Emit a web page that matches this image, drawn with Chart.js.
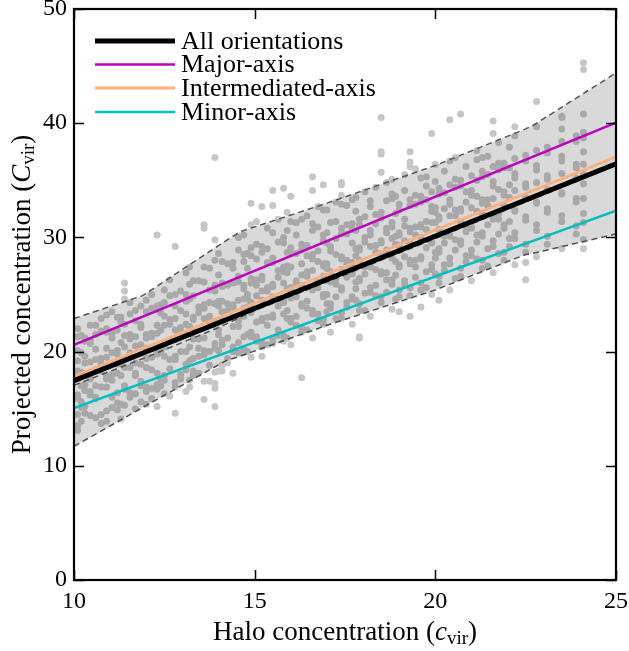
<!DOCTYPE html>
<html><head><meta charset="utf-8">
<script src="https://cdn.jsdelivr.net/npm/chart.js@4/dist/chart.umd.min.js"></script>
<style>html,body{margin:0;padding:0;background:#fff}canvas{display:block}</style>
</head><body>
<canvas id="c" width="629" height="651"></canvas>
<script>
// ---------- data ----------
const xTicks = [10, 15, 20, 25];
const yTicks = [0, 10, 20, 30, 40, 50];

const fitX = [10, 25];
const allOrient = [17.45, 36.45];
const majorAxis = [20.6, 40.05];
const interAxis = [17.85, 37.05];
const minorAxis = [15.05, 32.35];

const bandX = [10, 11.9, 14.2, 14.6, 17, 20, 22.5, 22.7, 25];
const bandUpper = [22.9, 24.9, 29.7, 30.5, 33.0, 36.3, 39.5, 39.8, 44.4];
const bandLower = [11.7, 15.1, 19.2, 19.6, 22.3, 25.4, 28.5, 28.6, 30.3];

const midX = [10, 12, 14, 15, 17, 20, 22.5, 25];
const midY = [17.05, 19.5, 22.1, 23.6, 26.1, 29.9, 33.1, 36.3];

const columnX = [10.1,10.3,10.6,10.9,11.2,11.4,11.7,12.0,12.3,12.5,12.8,13.1,13.3,13.6,13.9,14.1,14.4,14.7,14.9,15.2,15.5,15.8,16.0,16.3,16.6,16.9,17.1,17.4,17.7,17.9,18.2,18.5,18.8,19.0,19.3,19.6,19.9,20.1,20.4,20.7,21.0,21.3,21.6,21.9,22.2,22.5,22.8,23.1,23.5,23.9,24.1];
const columnY = [
 [13.1,13.5,14.5,15.9,16.2,17.6,18.3,19.2,20.1,21.3,22.0],
 [14.6,15.2,16.6,17.1,17.9,19.0,19.6,20.9,21.2],
 [14.2,15.9,16.0,17.0,18.4,19.3,20.2,21.5,22.3],
 [13.9,14.8,16.9,17.6,17.8,19.5,20.3,21.7,22.0,23.2],
 [14.9,15.5,16.4,18.1,18.9,19.8,20.1,21.9,23.0],
 [15.3,16.7,17.0,18.6,19.4,20.4,21.4,22.4,24.6,25.3,26.0],
 [15.0,16.3,17.9,18.1,19.0,20.5,21.3,22.7,23.6],
 [15.4,16.5,16.9,18.6,19.4,20.3,21.2,21.5,23.5,24.5],
 [15.2,16.7,17.1,18.1,19.8,20.0,21.6,22.3,23.7,24.0,30.2],
 [16.3,17.5,17.9,19.6,20.4,20.6,22.3,23.1,24.3,25.4],
 [14.6,16.9,17.3,19.3,19.6,21.1,21.9,22.9,24.0,25.0,29.2],
 [16.5,18.4,18.9,20.0,21.5,22.4,23.3,24.4,25.0,26.9],
 [17.9,18.3,19.4,21.1,21.9,22.8,23.0,24.9,26.2],
 [15.8,17.4,19.7,20.1,21.2,22.9,23.8,24.1,26.1,27.4,30.8,31.1],
 [15.2,16.8,17.2,18.2,20.3,20.7,22.3,22.6,24.2,25.3,25.8,28.0,29.8,37.0],
 [18.3,18.8,20.6,21.0,22.7,23.5,24.4,25.7,26.0,27.9],
 [18.1,20.0,20.4,22.2,23.0,23.9,24.1,26.0,27.3,27.8],
 [19.9,20.2,21.3,23.1,23.8,24.6,25.5,25.8,27.9,28.5,30.2],
 [19.5,21.3,21.7,23.4,24.2,24.3,26.0,26.4,28.4,29.1,31.1,33.0],
 [19.6,20.4,20.8,22.7,22.9,24.5,25.3,26.3,26.6,28.7,29.2,32.7],
 [20.7,21.1,23.0,23.2,24.8,25.7,25.9,27.8,28.2,30.4,32.8,34.1],
 [20.9,21.4,23.3,24.3,24.4,26.0,27.0,27.4,29.5,30.0,34.3],
 [20.6,22.6,22.9,24.7,25.5,25.6,27.4,28.6,29.1,31.4,33.6],
 [17.7,21.7,22.1,24.0,24.2,25.8,26.7,27.7,28.9,29.4,31.6],
 [21.2,23.3,23.6,25.4,25.5,27.1,28.1,28.5,30.6,31.2,34.1,35.3],
 [22.4,22.8,24.8,25.0,26.6,27.5,27.7,29.7,30.2,32.4,34.6],
 [21.7,23.8,24.2,26.1,26.9,27.0,28.8,29.2,31.3],
 [22.9,23.4,25.4,25.6,27.2,28.1,28.3,30.3,30.8,32.9,34.8,34.6,33.7],
 [22.4,24.6,24.8,26.8,27.6,27.8,29.5,30.7,31.2,33.3],
 [21.2,21.3,23.6,24.2,26.2,26.4,28.0,28.9,29.1,31.1,31.6],
 [23.1,25.2,25.6,27.4,27.5,29.2,30.2,30.6,32.7,33.2],
 [24.3,24.8,26.8,27.0,28.6,29.5,29.7,31.7,32.2,35.7,37.3,37.5,40.5],
 [23.7,25.9,26.3,28.2,28.2,29.9,30.9,31.3,33.4,33.8,35.1],
 [23.5,24.8,25.4,27.4,27.6,29.3,30.2,30.4,32.4,32.9],
 [23.1,24.9,25.6,27.7,28.0,29.6,30.5,30.8,32.8,33.3,36.2,36.6,37.5],
 [23.9,25.4,26.0,28.1,28.3,30.0,30.9,31.1,33.1,33.6,35.2],
 [25.0,27.2,27.6,29.5,29.6,31.3,32.3,32.7,34.0,39.1],
 [24.5,26.0,26.6,28.7,29.0,30.7,31.6,31.8,33.8,34.3],
 [25.4,27.7,28.2,30.1,30.2,31.9,32.9,33.3,34.6,36.7,40.3],
 [26.6,27.3,29.4,29.7,31.4,32.3,32.5,34.5,35.0,40.8],
 [26.2,28.4,28.9,30.8,30.9,32.6,33.7,34.1,35.4],
 [27.3,28.0,30.1,30.4,32.1,33.0,33.3,35.3,35.8,37.0],
 [26.9,29.2,29.7,31.6,31.7,33.4,34.5,34.9,36.2,40.2,39.1],
 [28.0,28.7,30.8,31.1,32.8,33.7,34.0,36.1,36.5],
 [27.6,29.9,30.4,32.3,32.4,34.1,35.2,35.6,36.9,38.9,39.7],
 [26.3,27.8,28.7,29.4,31.5,31.8,33.5,34.4,34.7,36.7,37.2],
 [28.3,30.6,31.1,33.0,33.1,34.8,35.9,36.3,37.6,39.7,41.9],
 [29.4,30.1,32.2,32.5,34.2,35.1,35.4,37.4,37.9],
 [29.0,31.4,31.9,33.8,33.9,35.6,36.7,37.1,38.4,40.5,40.6,39.5],
 [30.3,31.0,33.1,33.4,35.2,36.1,36.4,38.4,38.9],
 [29.0,29.8,31.3,32.1,33.4,34.7,35.5,36.4,37.5,38.7,39.2,40.8,44.7,45.3]
];

const columnX2 = [10.2,10.45,10.75,11.05,11.3,11.55,11.85,12.15,12.4,12.65,12.95,13.2,13.45,13.75,14.0,14.25,14.55,14.8,15.05,15.35,15.65,15.9,16.15,16.45,16.75,17.0,17.25,17.55,17.8,18.05,18.35,18.65,18.9,19.15,19.45,19.75,20.0,20.25,20.55,20.85,21.15,21.45,21.75,22.05];
const columnY2 = [
 [13.9,15.1,15.6,17.0,17.9,18.2,19.9,21.4],
 [14.4,16.2,16.5,17.6,19.1,20.7,21.0,22.3],
 [13.7,14.5,16.9,18.3,18.9,19.4,21.8,22.9],
 [15.1,16.0,17.5,18.0,19.9,21.2,21.6,23.5],
 [14.1,15.4,17.9,19.0,19.2,20.8,22.6,23.0],
 [16.0,16.4,18.6,19.9,21.1,21.5,23.3,24.3],
 [15.6,17.0,17.4,18.9,20.6,22.1,22.4,24.0],
 [15.9,16.8,18.4,19.5,21.3,21.6,23.8,25.0],
 [17.0,17.6,19.9,20.2,21.9,23.4,24.1],
 [16.1,18.5,19.3,21.0,22.4,22.8,24.9,26.3],
 [17.6,18.0,20.0,21.7,22.1,23.6,25.3],
 [16.9,17.5,19.2,20.4,22.2,24.6,25.9,27.4],
 [18.1,19.6,20.3,21.1,23.4,23.9,26.2],
 [17.4,18.8,20.0,22.6,23.1,24.3,25.4,27.3],
 [18.3,20.1,21.5,21.9,24.0,24.4,26.7,28.6],
 [19.0,19.4,21.2,23.6,24.2,25.8,27.7],
 [19.9,20.8,22.2,22.7,24.5,26.1,26.6,28.9,30.0],
 [20.0,21.5,23.9,24.6,25.0,27.3,28.6],
 [20.9,21.3,22.6,24.9,25.8,26.3,28.1,29.4,31.4],
 [20.6,22.3,23.0,25.3,25.6,27.8,29.0,30.8],
 [21.4,21.9,24.0,24.6,26.5,27.1,29.6,31.6],
 [21.2,22.9,23.6,25.5,26.9,27.5,28.7,30.6,32.2],
 [22.3,23.1,24.8,25.9,26.2,28.6,30.2,31.3],
 [21.9,23.8,24.4,26.6,27.0,28.4,29.3,31.9],
 [22.7,23.3,25.6,26.1,27.9,28.8,30.9,32.7],
 [23.5,24.2,25.0,27.3,27.7,29.5,30.4,32.4],
 [22.9,24.8,25.9,26.4,28.5,29.9,31.4,33.1],
 [23.9,24.3,26.5,27.6,28.0,30.3,31.1,32.8],
 [24.5,25.5,26.1,28.4,29.0,30.6,32.3,33.5],
 [23.6,25.1,26.8,27.4,29.6,30.0,31.8,34.0],
 [24.9,25.8,27.2,28.7,29.3,31.2,32.0,34.4],
 [25.2,26.3,26.9,28.9,30.4,30.8,33.2,34.8],
 [24.6,26.7,27.9,29.4,30.1,32.1,33.6],
 [25.9,26.2,28.3,29.7,31.0,31.6,34.1,35.5],
 [26.5,27.4,28.0,30.2,30.9,32.9,33.7,36.0],
 [25.6,27.0,29.1,30.7,31.4,33.3,34.5,35.3],
 [26.8,28.2,28.7,31.3,32.2,32.6,34.9,36.4],
 [27.1,27.6,29.5,30.1,32.5,33.9,35.8],
 [26.4,28.9,29.8,31.9,32.4,34.4,35.1,37.0],
 [27.9,28.4,30.5,31.0,33.1,34.0,36.2],
 [28.1,29.6,30.2,32.3,33.6,35.0,36.8,37.6],
 [27.5,29.0,31.1,32.8,33.3,35.5,37.1],
 [28.6,30.3,31.6,32.1,34.2,35.9,36.5,38.3],
 [29.2,29.9,31.4,33.5,34.6,36.1,37.9]
];

// ---------- build datasets ----------
const pts = (xs, ys) => xs.map((x, i) => ({x: x, y: ys[i]}));
const scatterPts = [];
columnX.forEach((x, i) => columnY[i].forEach(y => scatterPts.push({x: x, y: y})));
columnX2.forEach((x, i) => columnY2[i].forEach(y => scatterPts.push({x: x, y: y})));

const FONT = "'Liberation Serif', 'Times New Roman', serif";

const datasets = [
  {label: 'All orientations', data: pts(fitX, allOrient), borderColor: '#000000', borderWidth: 5, order: 0, legend: true},
  {label: 'Major-axis', data: pts(fitX, majorAxis), borderColor: '#bf00bf', borderWidth: 2.5, order: 2, legend: true},
  {label: 'Intermediated-axis', data: pts(fitX, interAxis), borderColor: '#fdb07c', borderWidth: 2.8, order: 1, legend: true},
  {label: 'Minor-axis', data: pts(fitX, minorAxis), borderColor: '#00bfbf', borderWidth: 2.5, order: 3, legend: true},
  {label: 'median', data: pts(midX, midY), borderColor: '#555555', borderWidth: 1.5, borderDash: [6, 4], order: 4},
  {label: 'upper', data: pts(bandX, bandUpper), borderColor: '#555555', borderWidth: 1.5, borderDash: [6, 4], order: 5,
   fill: {target: 6}, backgroundColor: 'rgba(0,0,0,0.15)'},
  {label: 'lower', data: pts(bandX, bandLower), borderColor: '#555555', borderWidth: 1.5, borderDash: [6, 4], order: 6},
  {label: 'halos', data: scatterPts, showLine: false, pointRadius: 3.5, pointBackgroundColor: '#c6c6c6', pointBorderWidth: 0, order: 7}
];
datasets.forEach(d => { if (d.pointRadius === undefined) d.pointRadius = 0; if (d.fill === undefined) d.fill = false; d.tension = 0; });

// ---------- plugins ----------
const framePlugin = {
  id: 'frame',
  afterDatasetsDraw(chart) {
    const ctx = chart.ctx, a = chart.chartArea, xs = chart.scales.x, ys = chart.scales.y;
    ctx.save();
    ctx.strokeStyle = '#000';
    ctx.lineWidth = 1.5;
    const L = 10;
    ctx.beginPath();
    xTicks.forEach(v => {
      const p = Math.round(xs.getPixelForValue(v)) + 0.5;
      ctx.moveTo(p, a.bottom); ctx.lineTo(p, a.bottom - L);
      ctx.moveTo(p, a.top); ctx.lineTo(p, a.top + L);
    });
    yTicks.forEach(v => {
      const p = Math.round(ys.getPixelForValue(v)) + 0.5;
      ctx.moveTo(a.left, p); ctx.lineTo(a.left + L, p);
      ctx.moveTo(a.right, p); ctx.lineTo(a.right - L, p);
    });
    ctx.stroke();
    ctx.lineWidth = 2.2;
    ctx.strokeRect(a.left, a.top, a.right - a.left, a.bottom - a.top);

    // legend
    const rows = chart.data.datasets.filter(d => d.legend);
    const rowY = [41, 64.5, 88, 112];
    ctx.font = "26px " + FONT;
    ctx.textBaseline = 'middle';
    ctx.textAlign = 'left';
    rows.forEach((d, i) => {
      const y = rowY[i];
      ctx.beginPath();
      ctx.strokeStyle = d.borderColor;
      ctx.lineWidth = d.borderWidth;
      ctx.moveTo(95, y); ctx.lineTo(175, y);
      ctx.stroke();
      ctx.fillStyle = '#000';
      ctx.fillText(d.label, 181, y + 1);
    });

    // axis titles
    const drawTitle = (parts, cx, baseY) => {
      let w = 0;
      parts.forEach(p => { ctx.font = p.f; w += ctx.measureText(p.t).width; });
      let x = cx - w / 2;
      ctx.textBaseline = 'alphabetic';
      parts.forEach(p => { ctx.font = p.f; ctx.fillText(p.t, x, baseY + (p.dy || 0)); x += ctx.measureText(p.t).width; });
    };
    const big = "27px " + FONT, ital = "italic 27px " + FONT, small = "19px " + FONT;
    const cx = (a.left + a.right) / 2, cy = (a.top + a.bottom) / 2;
    ctx.fillStyle = '#000';
    drawTitle([{t: 'Halo concentration (', f: big}, {t: 'c', f: ital}, {t: 'vir', f: small, dy: 4}, {t: ')', f: big}], cx, 640);
    ctx.save();
    ctx.translate(30, cy);
    ctx.rotate(-Math.PI / 2);
    drawTitle([{t: 'Projected concentration (', f: big}, {t: 'C', f: ital}, {t: 'vir', f: small, dy: 4}, {t: ')', f: big}], 0, 0);
    ctx.restore();
    ctx.restore();
  }
};

new Chart(document.getElementById('c'), {
  type: 'line',
  data: {datasets: datasets},
  options: {
    responsive: false,
    animation: false,
    devicePixelRatio: 1,
    layout: {padding: {top: 9, right: 13, left: 0, bottom: 0}},
    plugins: {legend: {display: false}, tooltip: {enabled: false}},
    scales: {
      x: {
        type: 'linear', min: 10, max: 25,
        grid: {display: false, drawTicks: false},
        border: {display: false},
        ticks: {stepSize: 5, padding: 7, color: '#000', font: {family: FONT, size: 24}, maxRotation: 0,
                callback: v => xTicks.includes(v) ? String(v) : ''},
        afterFit(s) { s.height = 71; s.paddingLeft = 0; s.paddingRight = 0; }
      },
      y: {
        type: 'linear', min: 0, max: 50,
        grid: {display: false, drawTicks: false},
        border: {display: false},
        ticks: {stepSize: 10, padding: 7, color: '#000', font: {family: FONT, size: 24},
                callback: v => yTicks.includes(v) ? String(v) : ''},
        afterFit(s) { s.width = 74; s.paddingTop = 0; s.paddingBottom = 0; }
      }
    }
  },
  plugins: [framePlugin]
});
</script>
</body></html>
